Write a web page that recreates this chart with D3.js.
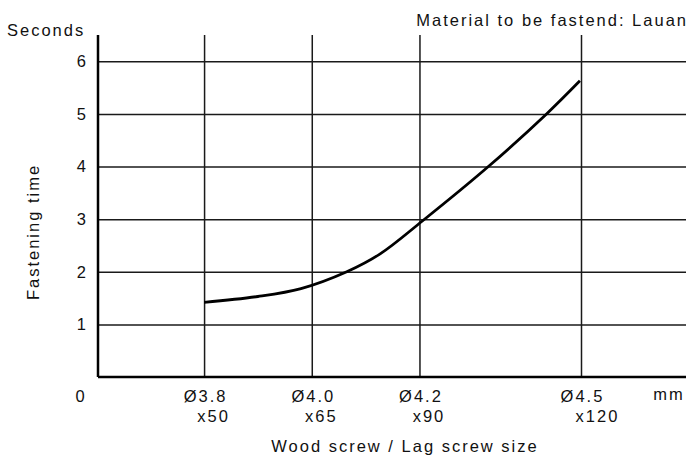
<!DOCTYPE html>
<html>
<head>
<meta charset="utf-8">
<script src="https://cdn.jsdelivr.net/npm/d3@7"></script>
<style>
  body { margin: 0; background: #fff; }
  svg text { font-family: "Liberation Sans", Arial, sans-serif; fill: #111; }
</style>
</head>
<body>
<div id="rootDiv"></div>
<script>
// screw sizes (mm) on the x axis and their lengths
const sizes = [3.8, 4.0, 4.2, 4.5]
const sizeLabels = ["Ø3.8", "Ø4.0", "Ø4.2", "Ø4.5"]
const lengthLabels = ["x50", "x65", "x90", "x120"]
const secondTicks = [1, 2, 3, 4, 5, 6]

// curve
const curveMm = [3.8, 3.9, 3.98, 4.065, 4.127, 4.206, 4.328, 4.436, 4.498]
const curveSec = [1.42, 1.53, 1.68, 2.0, 2.34, 2.97, 4.0, 5.0, 5.63]

const W = 688, H = 456
const plot = { left: 98, right: 686, top: 35, bottom: 377 }
const fontSize = 16.5, spacing = 2

const x = d3.scaleLinear().domain([3.603, 4.695]).range([plot.left, plot.right])
const y = d3.scaleLinear().domain([0, 6.5]).range([plot.bottom, plot.top])

const svg = d3.select("#rootDiv").append("svg")
    .attr("width", W)
    .attr("height", H)

// horizontal grid + y labels
const yAxis = svg.append("g")
    .attr("transform", `translate(${plot.left},0)`)
    .call(d3.axisLeft(y).tickValues(secondTicks).tickSize(-(plot.right - plot.left)).tickPadding(12).tickFormat(d3.format("d")))
yAxis.select(".domain").remove()
yAxis.selectAll("line").attr("stroke", "#1a1a1a").attr("stroke-width", 1.5)
yAxis.selectAll("text")
    .attr("font-size", fontSize)
    .attr("fill", "#111")

// vertical grid + x labels (two lines each)
const xAxis = svg.append("g")
    .attr("transform", `translate(0,${plot.bottom})`)
    .call(d3.axisBottom(x).tickValues(sizes).tickSize(-(plot.bottom - plot.top)).tickPadding(0).tickFormat(() => ""))
xAxis.select(".domain").remove()
xAxis.selectAll("line").attr("stroke", "#1a1a1a").attr("stroke-width", 1.5)
xAxis.selectAll(".tick text").each(function (d, i) {
    const t = d3.select(this).attr("y", 0).attr("dy", null)
        .attr("font-size", fontSize).attr("letter-spacing", spacing).attr("fill", "#111")
    t.append("tspan").attr("x", 1).attr("y", 25).text(sizeLabels[i])
    t.append("tspan").attr("x", i == 3 ? 16 : 9).attr("y", 44.5).text(lengthLabels[i])
})

// main axes
svg.append("line")
    .attr("x1", plot.left).attr("x2", plot.left)
    .attr("y1", plot.top).attr("y2", plot.bottom)
    .attr("stroke", "#000").attr("stroke-width", 2.5)
svg.append("line")
    .attr("x1", plot.left).attr("x2", plot.right)
    .attr("y1", plot.bottom).attr("y2", plot.bottom)
    .attr("stroke", "#000").attr("stroke-width", 2.5)

// curve
const line = d3.line()
    .x((d, i) => x(curveMm[i]))
    .y(d => y(d))
    .curve(d3.curveCatmullRom.alpha(0.5))
svg.append("path")
    .datum(curveSec)
    .attr("d", line)
    .attr("fill", "none")
    .attr("stroke", "#000")
    .attr("stroke-width", 2.8)

// texts
svg.append("text")
    .attr("x", 7).attr("y", 36)
    .attr("font-size", fontSize).attr("letter-spacing", spacing)
    .text("Seconds")

svg.append("text")
    .attr("x", 688).attr("y", 26)
    .attr("text-anchor", "end")
    .attr("font-size", fontSize).attr("letter-spacing", spacing)
    .text("Material to be fastend: Lauan")

svg.append("text")
    .attr("x", 80).attr("y", plot.bottom + 25)
    .attr("text-anchor", "middle")
    .attr("font-size", fontSize)
    .text("0")

svg.append("text")
    .attr("x", 669).attr("y", plot.bottom + 23)
    .attr("text-anchor", "middle")
    .attr("font-size", fontSize).attr("letter-spacing", spacing)
    .text("mm")

svg.append("text")
    .attr("x", 405).attr("y", 452)
    .attr("text-anchor", "middle")
    .attr("font-size", fontSize).attr("letter-spacing", spacing)
    .text("Wood screw / Lag screw size")

svg.append("text")
    .attr("transform", "translate(39,232) rotate(-90)")
    .attr("text-anchor", "middle")
    .attr("font-size", fontSize).attr("letter-spacing", spacing)
    .text("Fastening time")
</script>
</body>
</html>
